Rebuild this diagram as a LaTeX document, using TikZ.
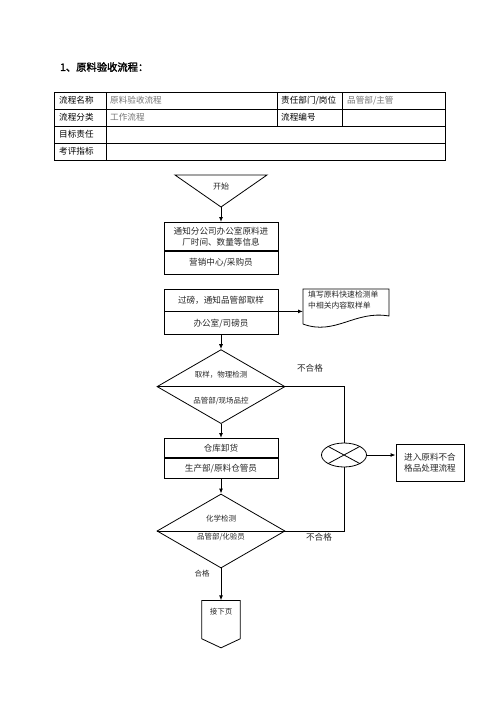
\documentclass[tikz,border=0pt]{standalone}
\usepackage{fontspec}
\setmainfont{Noto Sans CJK SC}[AutoFakeBold=2]
\usetikzlibrary{positioning,arrows.meta,calc,shapes.geometric}

\begin{document}
\begin{tikzpicture}[
  x=1pt, y=-1pt,
  node distance=14pt and 14pt,
  box/.style={draw, line width=0.8pt, minimum width=114pt, inner sep=2pt, align=center, font=\fontsize{8.6}{11}\selectfont, text=black!85},
  decision/.style={draw, diamond, line width=0.8pt, minimum width=128pt, minimum height=74pt, inner sep=0pt},
  txt/.style={font=\fontsize{8.6}{11}\selectfont, text=black!85, inner sep=1pt},
  small/.style={font=\fontsize{7.5}{10}\selectfont, text=black!85, inner sep=1pt},
  cell/.style={anchor=west, font=\fontsize{8.6}{11}\selectfont, inner sep=0pt},
  value/.style={cell, text=black!55},
  link/.style={line width=0.8pt},
  arrow/.style={-{Latex[length=5pt,width=4pt]}, line width=1pt}
]
\useasboundingbox (0,0) rectangle (496,702);

% title and table
\node[anchor=west, inner sep=0pt, font=\bfseries\fontsize{10.3}{12}\selectfont] (title) at (60,67) {1、原料验收流程：};
\draw[link] (54,92) rectangle (445,160);
\draw[link] (54,109) -- (445,109) (54,126) -- (445,126) (54,143) -- (445,143);
\draw[link] (106,92) -- (106,160) (277,92) -- (277,126) (342,92) -- (342,126);
\node[cell] (nameKey) at (59,100.5) {流程名称};
\node[value] (nameVal) at (110,100.5) {原料验收流程};
\node[cell] (ownerKey) at (281,100.5) {责任部门/岗位};
\node[value] (ownerVal) at (347,100.5) {品管部/主管};
\node[cell] (typeKey) at (59,117.5) {流程分类};
\node[value] (typeVal) at (110,117.5) {工作流程};
\node[cell] (codeKey) at (281,117.5) {流程编号};
\node[cell] (goalKey) at (59,134.5) {目标责任};
\node[cell] (kpiKey) at (59,151.5) {考评指标};

% start
\node[small, font=\fontsize{8}{10}\selectfont] (start) at (221,186) {开始};
\draw[link] (175,175) -- (267,175) -- (221,207) coordinate (startTip) -- cycle;

% main chain
\node[box, minimum height=28pt, below=15pt of startTip] (notify) {通知分公司办公室原料进\\厂时间、数量等信息};
\node[box, minimum height=23pt, below=0pt of notify] (notifyWho) {营销中心/采购员};
\node[box, minimum height=22pt, below=14pt of notifyWho] (weigh) {过磅，通知品管部取样};
\node[box, minimum height=23pt, below=0pt of weigh] (weighWho) {办公室/司磅员};
\node[decision, below=14pt of weighWho] (physical) {};
\node[small] (physicalTask) at ([yshift=12pt]physical.center) {取样，物理检测};
\node[small] (physicalWho) at ([yshift=-14pt]physical.center) {品管部/现场品控};
\node[box, minimum height=19pt, below=14pt of physical] (unload) {仓库卸货};
\node[box, minimum height=20pt, below=0pt of unload] (unloadWho) {生产部/原料仓管员};
\node[decision, below=15pt of unloadWho] (chemical) {};
\node[small] (chemicalTask) at ([yshift=12pt]chemical.center) {化学检测};
\node[small] (chemicalWho) at ([yshift=-6pt]chemical.center) {品管部/化验员};
\node[minimum width=38pt, minimum height=47pt, inner sep=0pt, below=32pt of chemical] (nextPage) {};
\node[small] (nextPageTxt) at ([yshift=-11pt]nextPage.north) {接下页};
\node[small] (passLbl) at (202,574) {合格};

% sample sheet
\node[small, font=\fontsize{7.8}{10.5}\selectfont, anchor=north west, align=left] (sheet) at (307,290) {填写原料快速检测单\\中相关内容取样单};
\coordinate (sheetIn) at (303,309);
\draw[link] (303,324) -- (303,289) -- (389,289) -- (389,316) .. controls (355,310) and (335,336) .. (303,324);

% reject branch
\node[draw, ellipse, line width=0.8pt, minimum width=45pt, minimum height=24pt, inner sep=0pt] (merge) at (344,455) {};
\draw[link] (merge.north west) -- (merge.south east) (merge.north east) -- (merge.south west);
\node[box, minimum width=68pt, minimum height=37pt, text width=56pt] (reject) at (430,462.5) {进入原料不合\\格品处理流程};
\node[txt] (failPhys) at (310,368) {不合格};
\node[txt] (failChem) at (319,537) {不合格};

% connectors
\draw[arrow] (startTip) -- (notify);
\draw[arrow] (weigh.south east) -- (weigh.south east -| sheetIn);
\draw[arrow] (weighWho) -- (physical);
\draw[link] (physical.west) -- (physical.east);
\draw[arrow] (physical) -- (unload);
\draw[arrow] (unloadWho) -- (chemical);
\draw[link] (chemical.west) -- (chemical.east);
\draw[arrow] (chemical) -- (nextPage);
\draw[link] (nextPage.north west) -- (nextPage.north east) -- ([yshift=9pt]nextPage.south east) -- (nextPage.south) -- ([yshift=9pt]nextPage.south west) -- cycle;
\draw[link] (physical.east) -| (merge.north);
\draw[link] (chemical.east) -| (merge.south);
\draw[arrow] (merge.east) -- (merge.east -| reject.west);
\end{tikzpicture}
\end{document}
